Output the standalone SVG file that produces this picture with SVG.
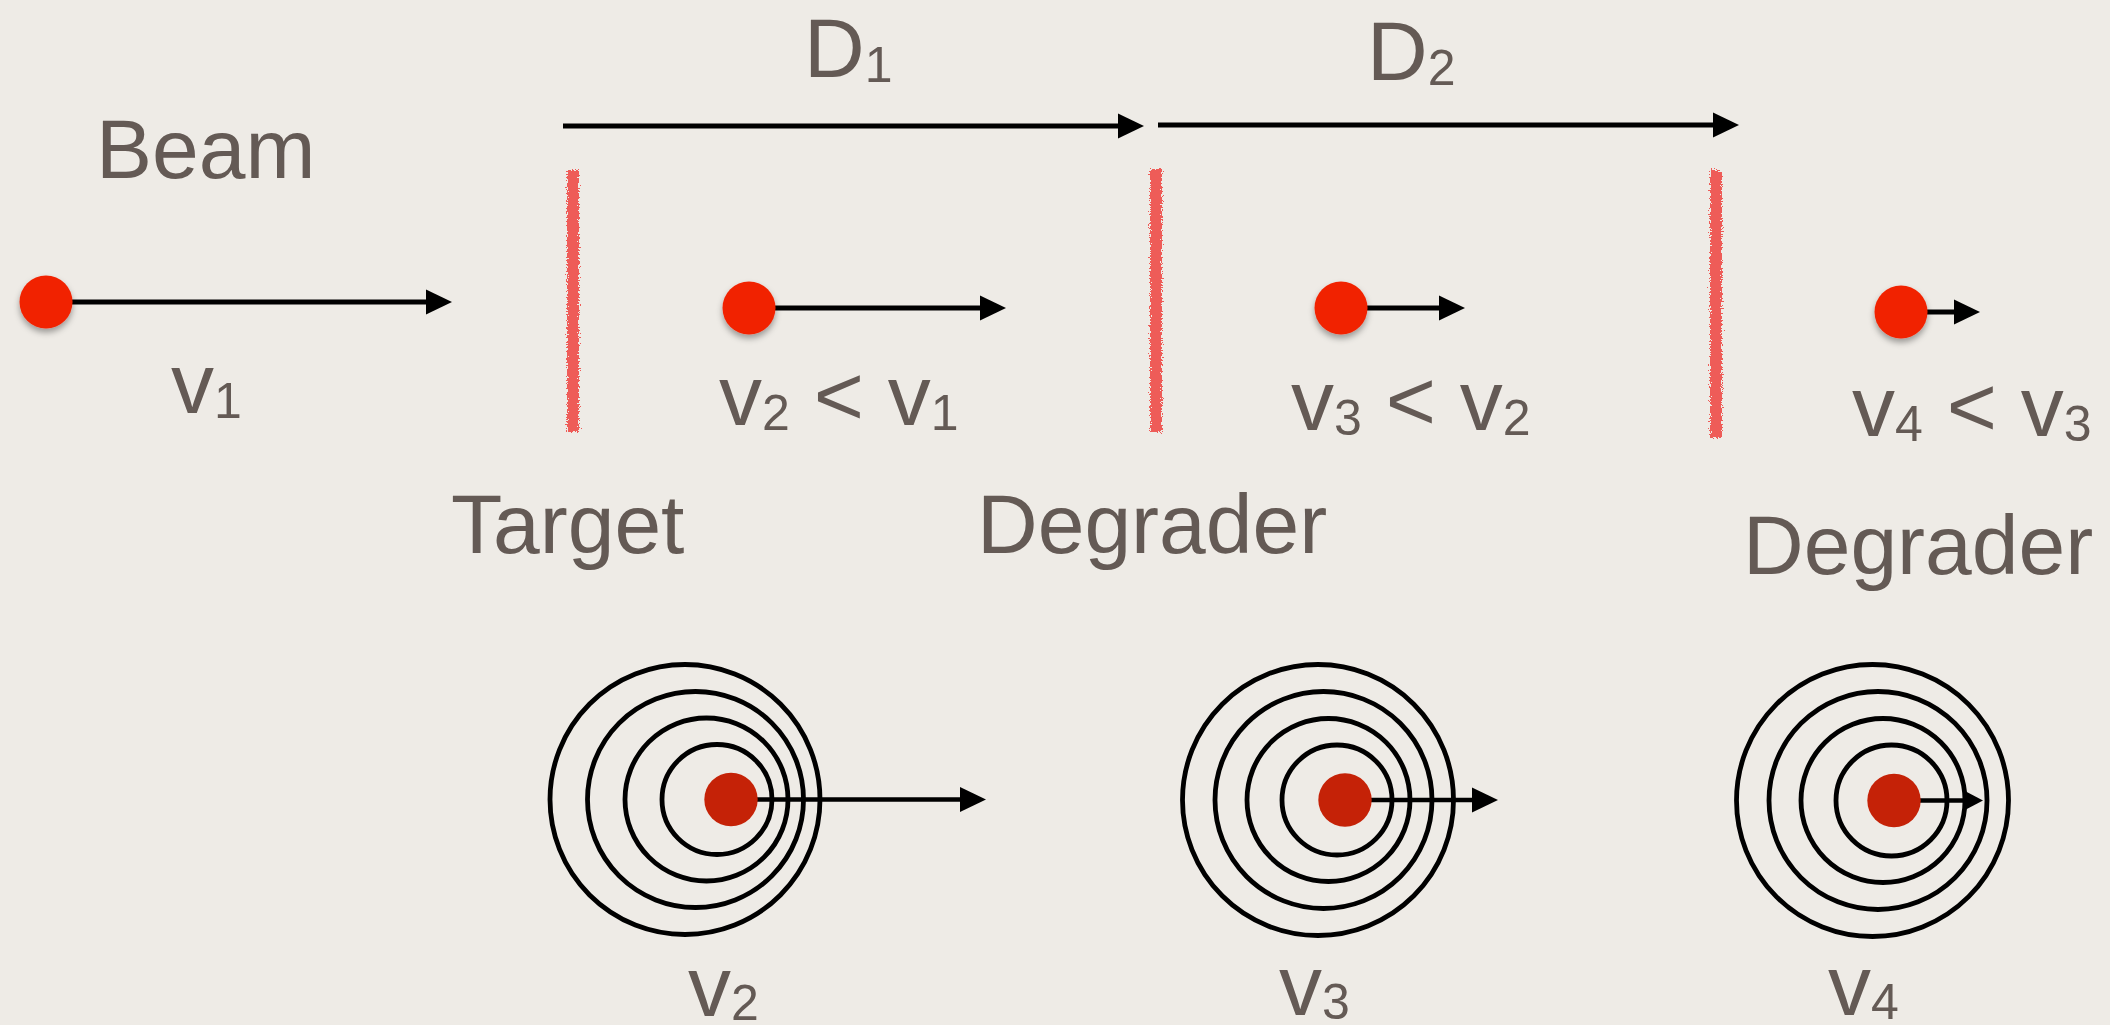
<svg xmlns="http://www.w3.org/2000/svg" width="2110" height="1025" viewBox="0 0 2110 1025">
  <style>
    .lbl { font-family: "Liberation Sans", Arial, sans-serif; fill: #645a55; }
    .big { font-size: 84px; }
    .vel { font-size: 86px; }
    .sub { font-size: 50px; }
    .dot { fill: #f12306; }
    .dot2 { fill: #c52207; }
    .ring { fill: none; stroke: #000; stroke-width: 4.8; }
    .wall { fill: #ee5c58; }
    .conn { stroke: #000; stroke-width: 4.8; fill: none; }
    .conn-s { stroke: #000; stroke-width: 4.3; fill: none; }
  </style>
  <defs>
    <!-- arrowheads: tip at the end of the line -->
    <marker id="head" markerUnits="userSpaceOnUse" markerWidth="26" markerHeight="26" viewBox="0 0 26 26" refX="16" refY="13" orient="auto">
      <path d="M0,0.5 L26,13 L0,25.5 Z" fill="#000"/>
    </marker>
    <marker id="head-sm" markerUnits="userSpaceOnUse" markerWidth="19" markerHeight="20" viewBox="0 0 19 20" refX="10" refY="10" orient="auto">
      <path d="M0,0 L19,10 L0,20 Z" fill="#000"/>
    </marker>
    <!-- soft shadow under the beam particles -->
    <filter id="shadow" x="-50%" y="-50%" width="200%" height="200%">
      <feDropShadow dx="0" dy="4" stdDeviation="3" flood-color="#000" flood-opacity="0.35"/>
    </filter>
    <!-- crayon texture for the foils -->
    <filter id="crayon" x="-100%" y="-5%" width="300%" height="110%">
      <feTurbulence type="fractalNoise" baseFrequency="0.7" numOctaves="3" seed="3" result="n"/>
      <feDisplacementMap in="SourceGraphic" in2="n" scale="7" xChannelSelector="R" yChannelSelector="G"/>
    </filter>
  </defs>

  <rect width="2110" height="1025" fill="#eeebe6"/>

  <!-- foils -->
  <g id="target-foil"><rect class="wall" x="567" y="170" width="12" height="262" filter="url(#crayon)"/></g>
  <g id="degrader-foil-1"><rect class="wall" x="1150" y="169" width="12" height="263" filter="url(#crayon)"/></g>
  <g id="degrader-foil-2"><rect class="wall" x="1710" y="170" width="12" height="268" filter="url(#crayon)"/></g>

  <!-- wavefront rings -->
  <g id="rings-v2">
    <circle class="ring" cx="685" cy="799.5" r="135"/>
    <circle class="ring" cx="695.5" cy="799.5" r="108"/>
    <circle class="ring" cx="706.5" cy="799.5" r="81.5"/>
    <circle class="ring" cx="717" cy="799.5" r="55"/>
  </g>
  <g id="rings-v3">
    <circle class="ring" cx="1318" cy="800" r="135.5"/>
    <circle class="ring" cx="1323.5" cy="800" r="108.5"/>
    <circle class="ring" cx="1328.5" cy="800" r="81.5"/>
    <circle class="ring" cx="1337" cy="800" r="55"/>
  </g>
  <g id="rings-v4">
    <circle class="ring" cx="1872.5" cy="800.5" r="136"/>
    <circle class="ring" cx="1878" cy="800.5" r="109"/>
    <circle class="ring" cx="1883" cy="800.5" r="82"/>
    <circle class="ring" cx="1891.5" cy="800.5" r="55.5"/>
  </g>

  <!-- connectors -->
  <g id="connectors">
    <line class="conn" x1="46" y1="302" x2="442" y2="302" marker-end="url(#head)"/>
    <line class="conn" x1="749" y1="308" x2="996" y2="308" marker-end="url(#head)"/>
    <line class="conn" x1="1341" y1="308" x2="1455" y2="308" marker-end="url(#head)"/>
    <line class="conn" x1="1901" y1="312" x2="1970" y2="312" marker-end="url(#head)"/>
    <line class="conn" x1="563" y1="126" x2="1134" y2="126" marker-end="url(#head)"/>
    <line class="conn" x1="1158" y1="125" x2="1729" y2="125" marker-end="url(#head)"/>
    <line class="conn-s" x1="731" y1="799.5" x2="976" y2="799.5" marker-end="url(#head)"/>
    <line class="conn-s" x1="1345" y1="800" x2="1488" y2="800" marker-end="url(#head)"/>
    <line class="conn-s" x1="1894" y1="800.5" x2="1974" y2="800.5" marker-end="url(#head-sm)"/>
  </g>

  <!-- particles -->
  <g id="beam-particle"><circle class="dot" cx="46" cy="302" r="26.5" filter="url(#shadow)"/></g>
  <g id="particle-2"><circle class="dot" cx="749" cy="308" r="26.5" filter="url(#shadow)"/></g>
  <g id="particle-3"><circle class="dot" cx="1341" cy="308" r="26.5" filter="url(#shadow)"/></g>
  <g id="particle-4"><circle class="dot" cx="1901" cy="312" r="26.5" filter="url(#shadow)"/></g>
  <g id="emitter-v2"><circle class="dot2" cx="731" cy="799.5" r="26.7"/></g>
  <g id="emitter-v3"><circle class="dot2" cx="1345" cy="800" r="26.7"/></g>
  <g id="emitter-v4"><circle class="dot2" cx="1894" cy="800.5" r="26.7"/></g>

  <!-- labels -->
  <g id="labels">
    <text class="lbl big" x="96" y="178">Beam</text>
    <text class="lbl big" x="451" y="553">Target</text>
    <text class="lbl big" x="977" y="553">Degrader</text>
    <text class="lbl big" x="1743" y="574">Degrader</text>
    <text class="lbl big" x="804" y="77">D<tspan class="sub" dy="5">1</tspan></text>
    <text class="lbl big" x="1367" y="80">D<tspan class="sub" dy="5">2</tspan></text>

    <text class="lbl vel" x="171" y="413">v<tspan class="sub" dy="5">1</tspan></text>
    <text class="lbl vel" x="719" y="425">v<tspan class="sub" dy="5">2</tspan><tspan dy="-5"> &lt; v</tspan><tspan class="sub" dy="5">1</tspan></text>
    <text class="lbl vel" x="1291" y="430">v<tspan class="sub" dy="5">3</tspan><tspan dy="-5"> &lt; v</tspan><tspan class="sub" dy="5">2</tspan></text>
    <text class="lbl vel" x="1852" y="436">v<tspan class="sub" dy="5">4</tspan><tspan dy="-5"> &lt; v</tspan><tspan class="sub" dy="5">3</tspan></text>

    <text class="lbl vel" x="688" y="1016">v<tspan class="sub" dy="4">2</tspan></text>
    <text class="lbl vel" x="1279" y="1015">v<tspan class="sub" dy="4">3</tspan></text>
    <text class="lbl vel" x="1828" y="1015">v<tspan class="sub" dy="4">4</tspan></text>
  </g>
</svg>
